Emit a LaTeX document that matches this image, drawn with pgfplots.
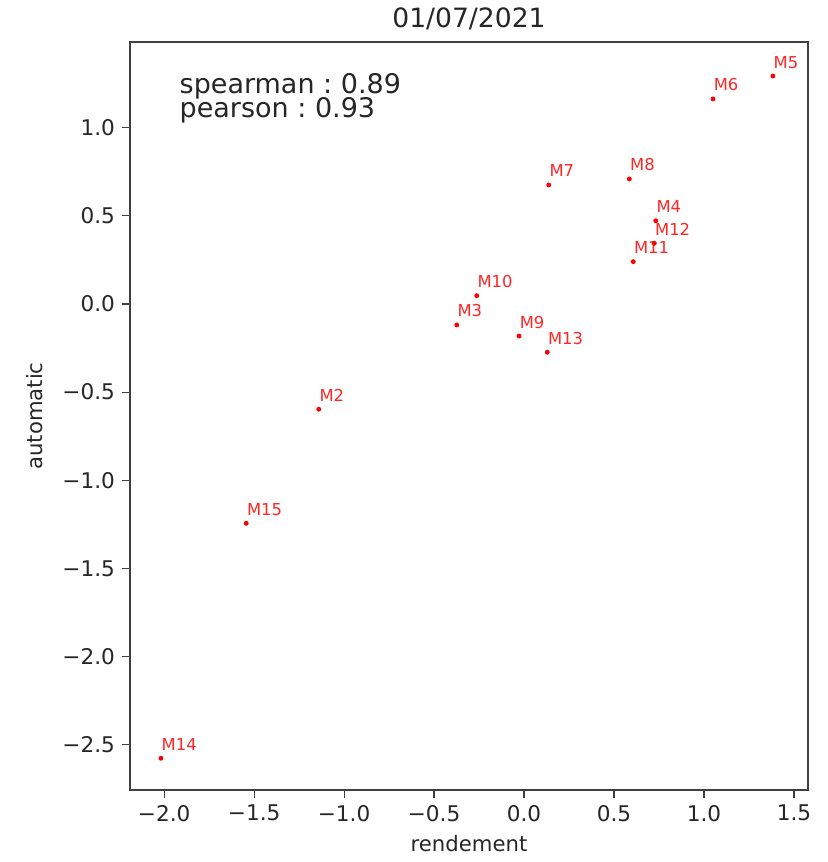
\documentclass[border=0pt]{standalone}
\usepackage{fontspec}
\setmainfont{DejaVu Sans}
\usepackage{pgfplots}
\pgfplotsset{compat=1.18}
\frenchspacing
\begin{document}
\begin{tikzpicture}
\path[use as bounding box] (-65pt,-36pt) rectangle (349pt,395pt);
\begin{axis}[
  scale only axis,
  width=339pt, height=374pt,
  xmin=-2.19, xmax=1.578,
  ymin=-2.757, ymax=1.486,
  axis line style={black!75, line width=0.7pt},
  tick pos=left,
  tick align=outside,
  major tick length=4pt,
  tick style={black!75, line width=0.6pt},
  xtick={-2,-1.5,-1,-0.5,0,0.5,1,1.5},
  xticklabels={−2.0,−1.5,−1.0,−0.5,0.0,0.5,1.0,1.5},
  ytick={-2.5,-2,-1.5,-1,-0.5,0,0.5,1},
  yticklabels={−2.5,−2.0,−1.5,−1.0,−0.5,0.0,0.5,1.0},
  ticklabel style={font=\fontsize{10.8}{12}\selectfont, text=black!85},
  xlabel={rendement},
  ylabel={automatic},
  label style={font=\fontsize{10.6}{12}\selectfont, text=black!85},
  ylabel style={xshift=0pt, yshift=3pt},
  title={01/07/2021},
  title style={font=\fontsize{13.3}{15}\selectfont, text=black!85, yshift=-3.5pt},
  clip=false,
]
\addplot[only marks, mark=*, mark size=1pt, red,
  nodes near coords, point meta=explicit symbolic,
  nodes near coords style={anchor=base west, inner sep=0pt, xshift=0.2pt, yshift=4pt,
    font=\fontsize{8.2}{10}\selectfont, text=red!85}]
  table[meta=label] {
x y label
-1.141 -0.597 M2
-0.374 -0.119 M3
0.732 0.472 M4
1.383 1.293 M5
1.050 1.163 M6
0.137 0.675 M7
0.585 0.709 M8
-0.028 -0.182 M9
-0.263 0.047 M10
0.607 0.240 M11
0.724 0.344 M12
0.129 -0.274 M13
-2.018 -2.577 M14
-1.544 -1.244 M15
};
\node[anchor=base west, inner sep=0pt, font=\fontsize{13.5}{15}\selectfont, text=black!85] at (rel axis cs:0.0727,0.9314) {spearman : 0.89};
\node[anchor=base west, inner sep=0pt, font=\fontsize{13.5}{15}\selectfont, text=black!85] at (rel axis cs:0.0727,0.8993) {pearson : 0.93};
\end{axis}
\end{tikzpicture}
\end{document}
